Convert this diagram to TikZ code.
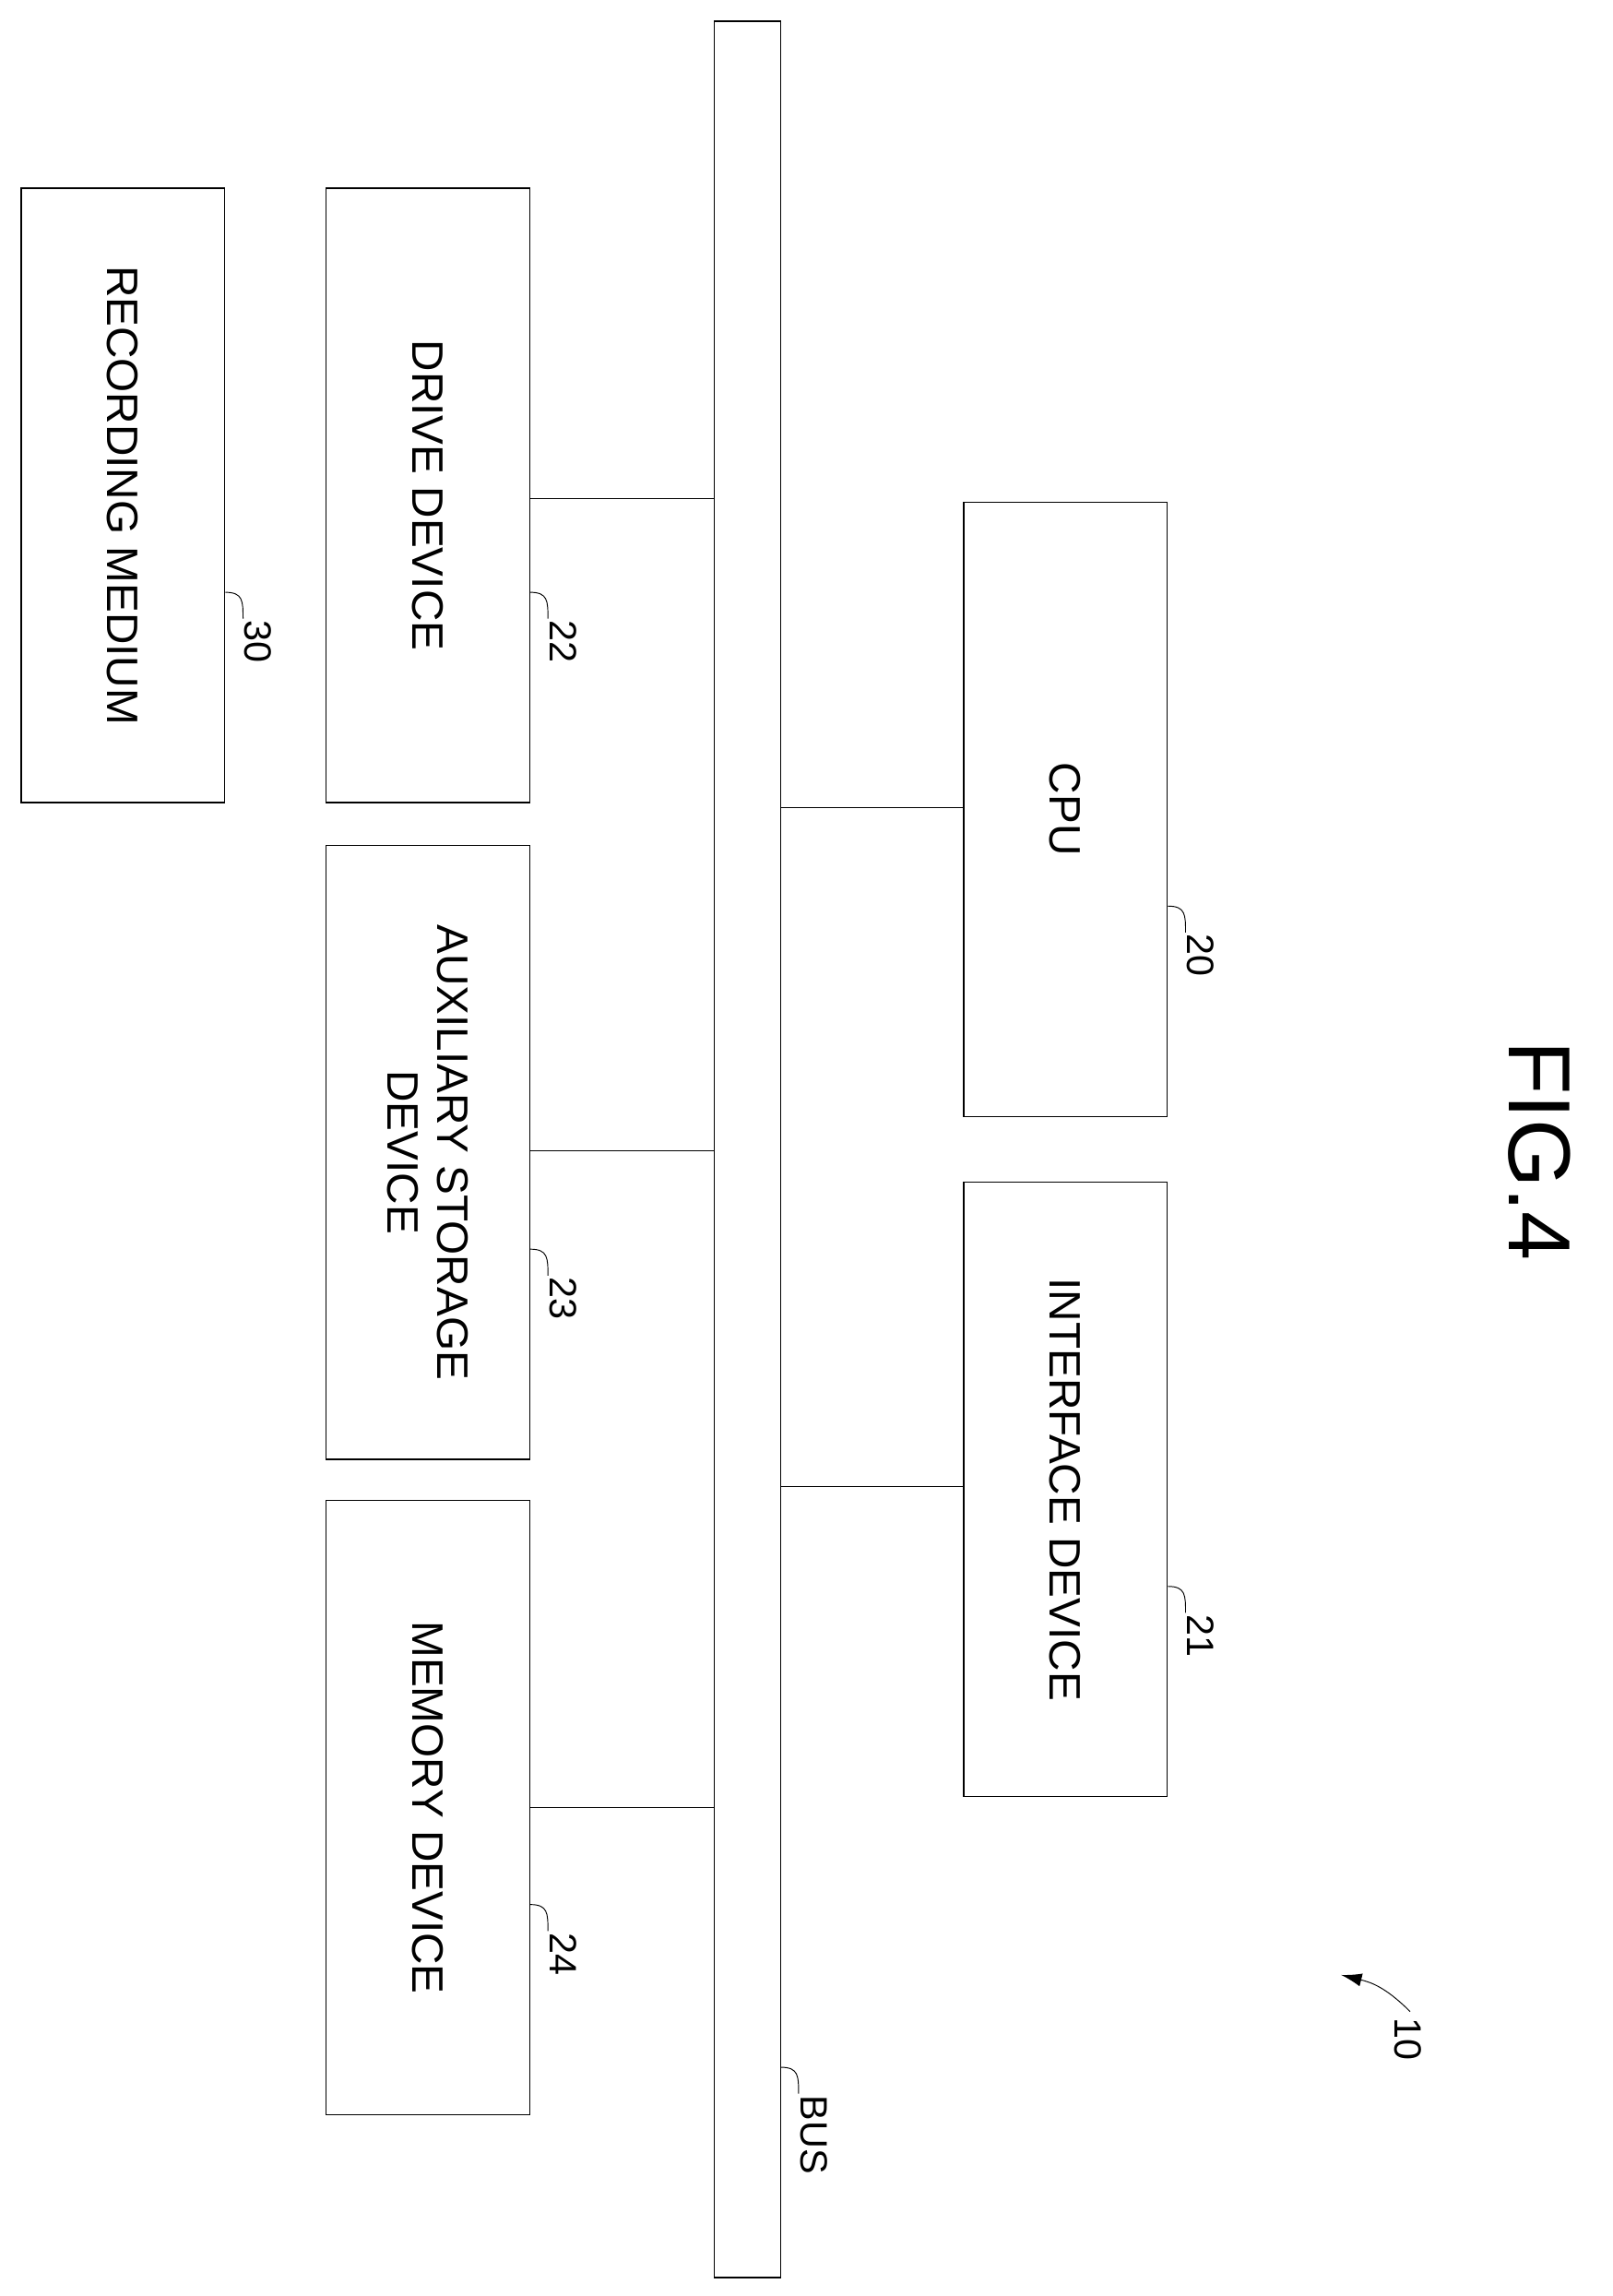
\documentclass[tikz,border=0pt]{standalone}
\usepackage{fontspec}
\setmainfont{Liberation Sans}
\usetikzlibrary{positioning,arrows.meta}
\begin{document}
\begin{tikzpicture}[x=1pt,y=-1pt,thick,
  box/.style={draw,minimum width=139pt,minimum height=419pt,anchor=north west,inner sep=0pt},
  txt/.style={rotate=-90,font=\fontsize{30}{34}\selectfont,align=center},
  num/.style={rotate=-90,font=\fontsize{26}{30}\selectfont,anchor=south west,inner sep=1pt}]
\useasboundingbox (0,0) rectangle (1100,1566);
% bus
\node[draw,minimum width=45pt,minimum height=1539pt,anchor=north west,inner sep=0pt] (bus) at (487,14) {};
% boxes
\node[box] (30) at (14,128) {};
\node[box] (22) at (222,128) {};
\node[box] (23) at (222,576) {};
\node[box] (24) at (222,1023) {};
\node[box] (20) at (657,342) {};
\node[box] (21) at (657,806) {};
\node[txt] at (30.center) {RECORDING MEDIUM};
\node[txt] at (22.center) {DRIVE DEVICE};
\node[txt] at (23.center) {AUXILIARY STORAGE\\DEVICE};
\node[txt] at (24.center) {MEMORY DEVICE};
\node[txt] at (20.center) {CPU};
\node[txt] at (21.center) {INTERFACE DEVICE};
% connections
\draw (22.east |- 0,340) -- (bus.west |- 0,340);
\draw (23.east |- 0,785) -- (bus.west |- 0,785);
\draw (24.east |- 0,1233) -- (bus.west |- 0,1233);
\draw (20.west |- 0,551) -- (bus.east |- 0,551);
\draw (21.west |- 0,1014) -- (bus.east |- 0,1014);
% reference numerals
\foreach \b/\y in {30/404,22/404,23/852,24/1299,20/618,21/1082}
  \draw[semithick] (\b.east |- 0,\y) .. controls ++(12,0) and ++(0,-12) .. ++(12,18)
    node[num] {\b};
\draw[semithick] (bus.east |- 0,1410) .. controls ++(12,0) and ++(0,-12) .. ++(12,18)
  node[num] {BUS};
\coordinate (a10) at (915,1347);
\node[num] (n10) at (950,1375) {10};
\draw[semithick,-{Latex[length=14pt,width=9pt]}] (962,1372) .. controls (945,1355) and (935,1352) .. (a10);
\node[rotate=-90,font=\fontsize{60}{64}\selectfont] (fig) at (1050,785) {FIG.4};
\end{tikzpicture}
\end{document}
